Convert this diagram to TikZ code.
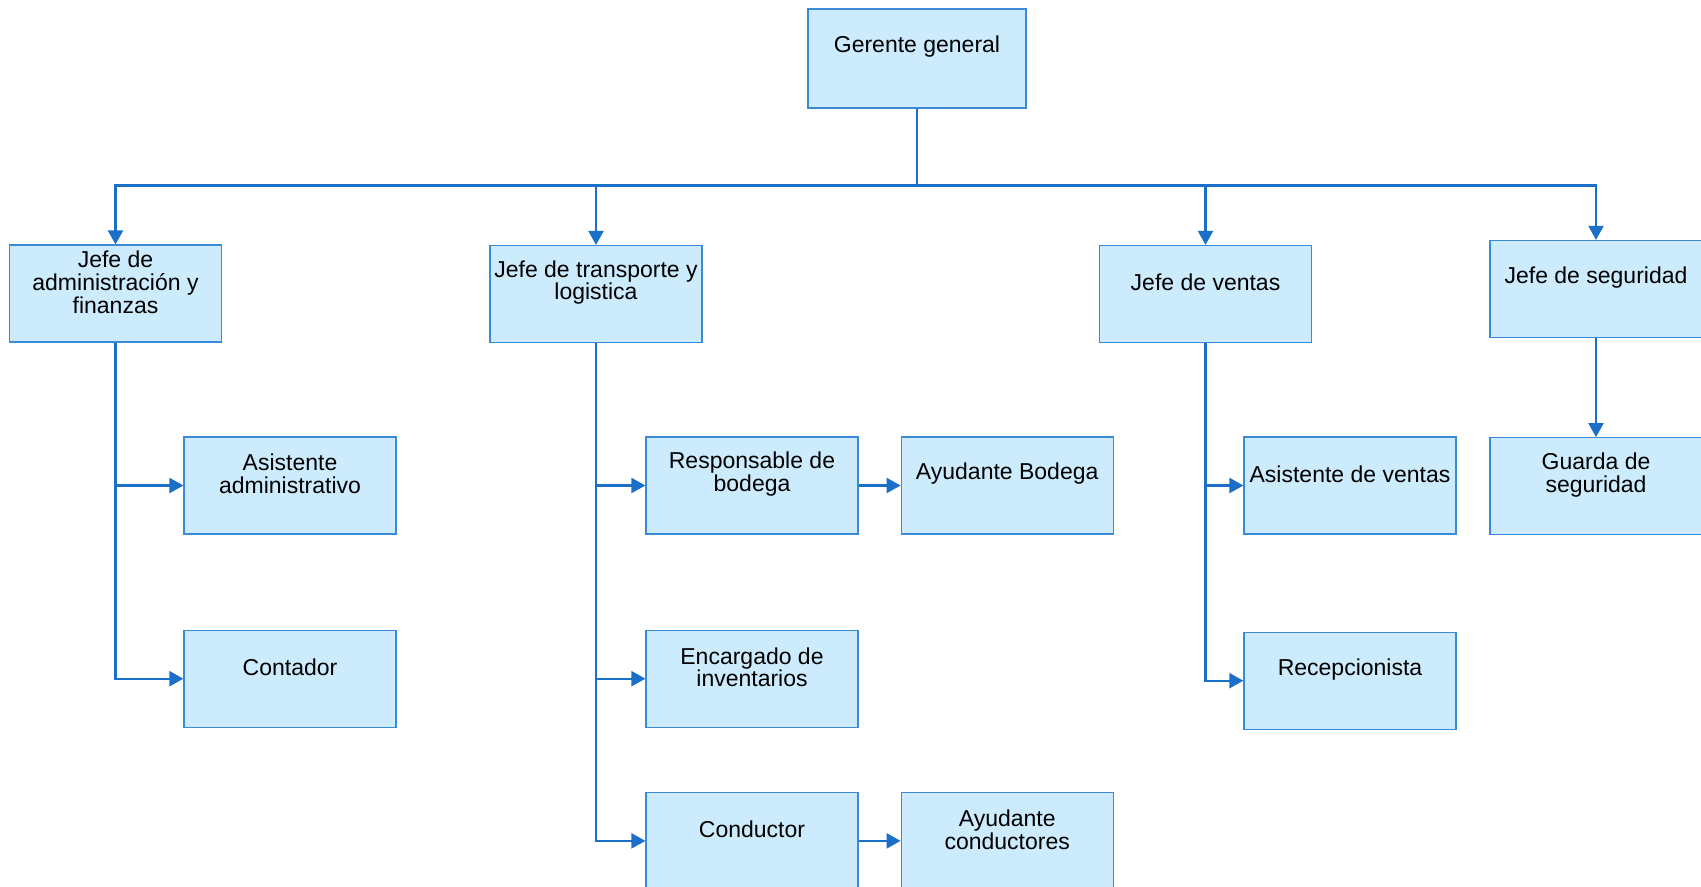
\documentclass[tikz,border=0pt]{standalone}
\usepackage{fontspec}
\setmainfont{Liberation Sans}
\usetikzlibrary{positioning, arrows.meta}
\definecolor{cajafondo}{HTML}{CCEBFC}
\definecolor{cajaborde}{HTML}{3A8AD8}
\definecolor{linea}{HTML}{1A70C8}
\tikzset{
  puesto/.style={draw=cajaborde, fill=cajafondo, line width=0.6pt, % caja de cada cargo
    minimum width=106pt, minimum height=48.5pt, inner sep=0pt},
  rotulo/.style={yshift=5.75pt, align=center, % texto algo arriba del centro
    font=\fontsize{11.5}{11.4}\selectfont},
  conector/.style={->, draw=linea, line width=1.1pt},
  >={Triangle[length=7pt, width=7.5pt]},
}

\begin{document}
\begin{tikzpicture}[x=0.5pt, y=-0.5pt]
  \useasboundingbox (0,0) rectangle (1701,887);

  % nivel superior
  \node[puesto, minimum width=109pt, minimum height=49.5pt,
        label={[rotulo]center:Gerente general}] (gg) at (917,58.5) {};

  % jefaturas
  \node[puesto, label={[rotulo]center:{Jefe de\\administración y\\finanzas}}] (jaf) at (115.5,293.5) {};
  \node[puesto, label={[rotulo]center:{Jefe de transporte y\\logistica}}] (jtl) at (596,294) {};
  \node[puesto, label={[rotulo]center:Jefe de ventas}] (jv) at (1205.5,294) {};
  \node[puesto, label={[rotulo]center:Jefe de seguridad}] (js) at (1596,289) {};

  % administracion
  \node[puesto, label={[rotulo]center:{Asistente\\administrativo}}] (aa) at (290,485.5) {};
  \node[puesto, below=47.5pt of aa, label={[rotulo]center:Contador}] (con) {};

  % transporte
  \node[puesto, label={[rotulo]center:{Responsable de\\bodega}}] (rb) at (752,485.5) {};
  \node[puesto, right=21pt of rb, label={[rotulo]center:Ayudante Bodega}] (ab) {};
  \node[puesto, below=47.5pt of rb, label={[rotulo]center:{Encargado de\\inventarios}}] (ei) {};
  \node[puesto, below=32pt of ei, label={[rotulo]center:Conductor}] (cd) {};
  \node[puesto, right=21pt of cd, label={[rotulo]center:{Ayudante\\conductores}}] (ac) {};

  % ventas
  \node[puesto, label={[rotulo]center:Asistente de ventas}] (av) at (1350,485.5) {};
  \node[puesto, below=48.5pt of av, label={[rotulo]center:Recepcionista}] (rc) {};

  % seguridad
  \node[puesto, below=49.5pt of js, label={[rotulo]center:{Guarda de\\seguridad}}] (gs) {};

  \draw[conector] (gg.south) -- ++(0,77) -| (jaf.north);
  \draw[conector] (gg.south) -- ++(0,77) -| (jtl.north);
  \draw[conector] (gg.south) -- ++(0,77) -| (jv.north);
  \draw[conector] (gg.south) -- ++(0,77) -| (js.north);

  \draw[conector] (jaf.south) |- (aa.west);
  \draw[conector] (jaf.south) |- (con.west);

  \draw[conector] (jtl.south) |- (rb.west);
  \draw[conector] (jtl.south) |- (ei.west);
  \draw[conector] (jtl.south) |- (cd.west);
  \draw[conector] (rb) -- (ab);
  \draw[conector] (cd) -- (ac);

  \draw[conector] (jv.south) |- (av.west);
  \draw[conector] (jv.south) |- (rc.west);

  \draw[conector] (js) -- (gs);
\end{tikzpicture}
\end{document}
